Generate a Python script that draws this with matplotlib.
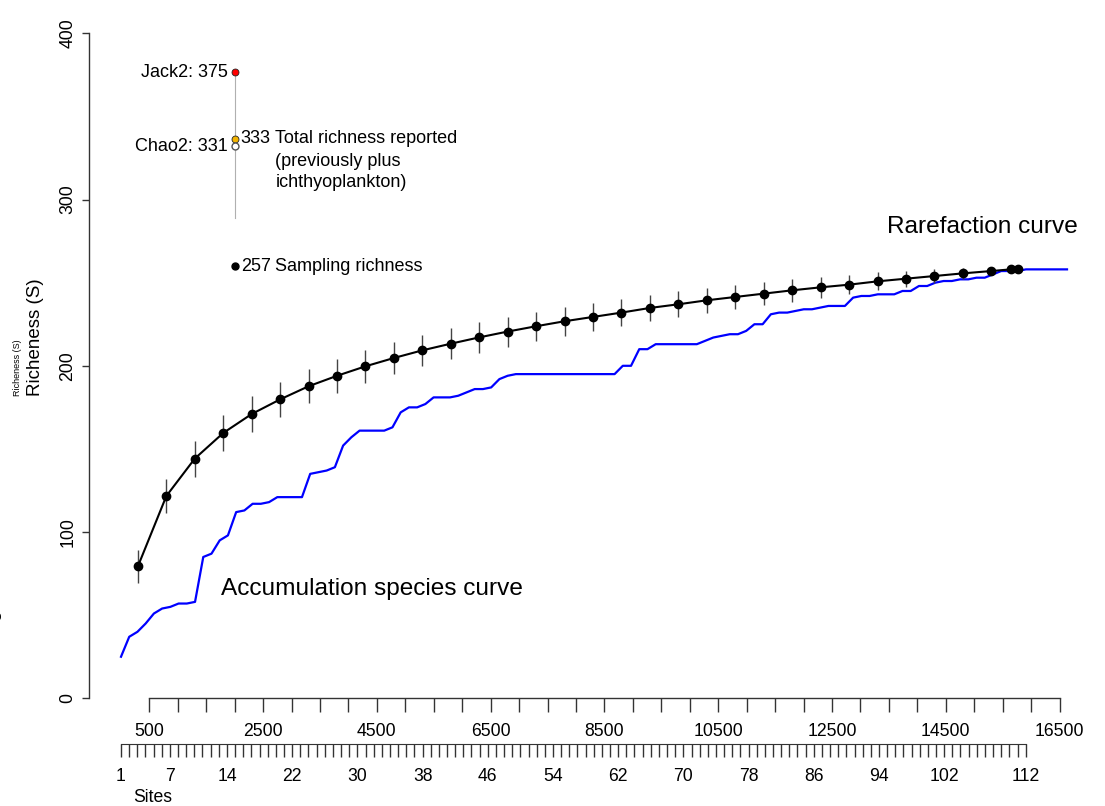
import matplotlib.pyplot as plt

plt.rcParams['font.family'] = ['Liberation Sans', 'DejaVu Sans']

# ============================================
# DADOS
# ============================================

# curva de acumulacao (azul): riqueza acumulada a cada amostra
acumulada = [25, 37, 40, 45, 51, 54, 55, 57, 57, 58,
             85, 87, 95, 98, 112, 113, 117, 117, 118, 121,
             121, 121, 121, 135, 136, 137, 139, 152, 157, 161,
             161, 161, 161, 163, 172, 175, 175, 177, 181, 181,
             181, 182, 184, 186, 186, 187, 192, 194, 195, 195,
             195, 195, 195, 195, 195, 195, 195, 195, 195, 195,
             195, 200, 200, 210, 210, 213, 213, 213, 213, 213,
             213, 215, 217, 218, 219, 219, 221, 225, 225, 231,
             232, 232, 233, 234, 234, 235, 236, 236, 236, 241,
             242, 242, 243, 243, 243, 245, 245, 248, 248, 250,
             251, 251, 252, 252, 253, 253, 255, 257, 257, 257,
             258, 258, 258, 258, 258, 258]

# curva de rarefacao (preta): individuos, riqueza media e desvio
individuos = [300, 800, 1300, 1800, 2300, 2800, 3300, 3800, 4300, 4800,
              5300, 5800, 6300, 6800, 7300, 7800, 8300, 8800, 9300, 9800,
              10300, 10800, 11300, 11800, 12300, 12800, 13300, 13800, 14300, 14800,
              15300, 15640, 15775]
riqueza = [79.4, 121.7, 144.2, 159.6, 171.0, 179.8, 187.7, 194.0, 199.7, 204.7,
           209.3, 213.3, 217.1, 220.6, 223.8, 226.8, 229.4, 232.0, 234.8, 237.0,
           239.4, 241.4, 243.4, 245.4, 247.2, 248.8, 250.8, 252.4, 254.0, 255.6,
           257.0, 258.0, 258.0]
desvio = [10.0, 10.5, 10.8, 10.7, 10.7, 10.4, 10.3, 10.2, 10.0, 9.9,
          9.5, 9.3, 9.2, 9.0, 8.8, 8.6, 8.4, 8.1, 8.0, 7.8,
          7.5, 7.2, 7.0, 6.8, 6.4, 5.9, 5.4, 4.8, 4.1, 3.3,
          1.8, 0.0, 0.0]

# estimadores
x_estim = 2000
jack2 = 376.5
total_reportado = 336.5
chao2 = 332.5
amostrada = 260.0
base_linha = 289

# eixos
ticks_ind = [500, 2500, 4500, 6500, 8500, 10500, 12500, 14500, 16500]
ticks_ind_menores = [v for v in range(500, 16501, 500) if v not in ticks_ind]
sites_rotulos = [1, 7, 14, 22, 30, 38, 46, 54, 62, 70, 78, 86, 94, 102, 112]
sites_todos = list(range(1, 113))

# ============================================
# FIGURA
# ============================================

W, H = 1105, 806
fig = plt.figure(figsize=(W / 100, H / 100), dpi=100)


def caixa(x0, y0, x1, y1):
    # caixa em pixels (origem no topo) -> fracao da figura
    return [x0 / W, 1 - y1 / H, (x1 - x0) / W, (y1 - y0) / H]


cor_eixo = '#333333'

ax = fig.add_axes(caixa(89, 33.3, 1100, 698.3))
ax_b = fig.add_axes(caixa(89, 33.3, 1100, 698.3))
ax_b.set_zorder(0)
ax.set_zorder(1)
ax.patch.set_visible(False)

# curva azul, com escala propria
ax_b.plot(range(1, len(acumulada) + 1), acumulada, color='#0000FF', lw=1.6)
ax_b.set_xlim(-2.89, 120.01)
ax_b.set_ylim(0, 400)
ax_b.axis('off')

# curva preta
ax.vlines(individuos, [r - d for r, d in zip(riqueza, desvio)],
          [r + d for r, d in zip(riqueza, desvio)], color='#444444', lw=1.0)
ax.plot(individuos, riqueza, color='black', lw=1.5, marker='o', ms=6)

# estimadores
ax.plot([x_estim, x_estim], [base_linha, jack2], color='#b0b0b0', lw=0.8, zorder=1)
ax.plot(x_estim, jack2, 'o', ms=5, mfc='#FF0000', mec='#222222', mew=0.6)
ax.plot(x_estim, total_reportado, 'o', ms=5, mfc='#F2B300', mec='#222222', mew=0.6)
ax.plot(x_estim, chao2, 'o', ms=5, mfc='white', mec='#555555', mew=1.0)
ax.plot(x_estim, amostrada, 'o', ms=5, color='black')

fs = 13
ax.annotate('Jack2: 375', (x_estim, jack2), xytext=(-7, 0), textcoords='offset pixels',
            ha='right', va='center', fontsize=fs)
ax.annotate('Chao2: 331', (x_estim, chao2), xytext=(-7, -1), textcoords='offset pixels',
            ha='right', va='center', fontsize=fs)
ax.annotate('333', (x_estim, total_reportado), xytext=(6, 0), textcoords='offset pixels',
            ha='left', va='center', fontsize=fs)
ax.annotate('Total richness reported', (x_estim, total_reportado), xytext=(40.7, 0),
            textcoords='offset pixels', ha='left', va='center', fontsize=fs)
ax.annotate('(previously plus', (x_estim, total_reportado), xytext=(40.7, -22.4),
            textcoords='offset pixels', ha='left', va='center', fontsize=fs)
ax.annotate('ichthyoplankton)', (x_estim, total_reportado), xytext=(40.7, -44),
            textcoords='offset pixels', ha='left', va='center', fontsize=fs)
ax.annotate('257', (x_estim, amostrada), xytext=(6, 0), textcoords='offset pixels',
            ha='left', va='center', fontsize=fs)
ax.annotate('Sampling richness', (x_estim, amostrada), xytext=(40.7, 0),
            textcoords='offset pixels', ha='left', va='center', fontsize=fs)

ax.text(13467, 283.5, 'Rarefaction curve', fontsize=17.6, ha='left', va='center')
ax.text(1755, 65.7, 'Accumulation species curve', fontsize=17.6, ha='left', va='center')

# eixo principal
ax.set_xlim(-560, 17211)
ax.set_ylim(0, 400)
ax.spines['top'].set_visible(False)
ax.spines['right'].set_visible(False)
ax.spines['left'].set_bounds(0, 400)
ax.spines['bottom'].set_bounds(500, 16500)
for lado in ['left', 'bottom']:
    ax.spines[lado].set_color(cor_eixo)
    ax.spines[lado].set_linewidth(1.0)

ax.set_xticks(ticks_ind)
ax.set_xticks(ticks_ind_menores, minor=True)
ax.set_xticklabels([str(v) for v in ticks_ind])
ax.tick_params(axis='x', which='both', length=10, width=1, color=cor_eixo,
               labelsize=12.7, pad=7.5)

ax.set_yticks([0, 100, 200, 300, 400])
ax.set_yticklabels(['0', '100', '200', '300', '400'], rotation=90, va='center')
ax.tick_params(axis='y', length=5, width=1, color=cor_eixo, labelsize=12.7, pad=4)

# eixo dos sites
ax_s = fig.add_axes(caixa(89, 700, 1100, 744))
ax_s.patch.set_visible(False)
for lado in ['top', 'right', 'left']:
    ax_s.spines[lado].set_visible(False)
ax_s.spines['bottom'].set_bounds(1, 112)
ax_s.spines['bottom'].set_color(cor_eixo)
ax_s.set_xlim(-2.926, 121.12)
ax_s.set_yticks([])
ax_s.set_xticks(sites_rotulos)
ax_s.set_xticks([s for s in sites_todos if s not in sites_rotulos], minor=True)
ax_s.set_xticklabels([str(s) for s in sites_rotulos])
ax_s.tick_params(axis='x', which='both', length=9.5, width=1, color=cor_eixo,
                 labelsize=12.7, pad=8)

# textos soltos
fig.text(153 / W, 1 - 797 / H, 'Sites', fontsize=12.7, ha='center', va='center')
fig.text(36 / W, 1 - 337 / H, 'Richeness (S)', fontsize=13.5, rotation=90,
         ha='center', va='center')
fig.text(18 / W, 1 - 368 / H, 'Richeness (S)', fontsize=6.5, rotation=90,
         ha='center', va='center')
# resto de um rotulo cortado na borda esquerda
fig.text(-3 / W, 1 - 616 / H, 'e', fontsize=13.5, rotation=90,
         ha='center', va='center')

fig.savefig('out.png', dpi=100)
